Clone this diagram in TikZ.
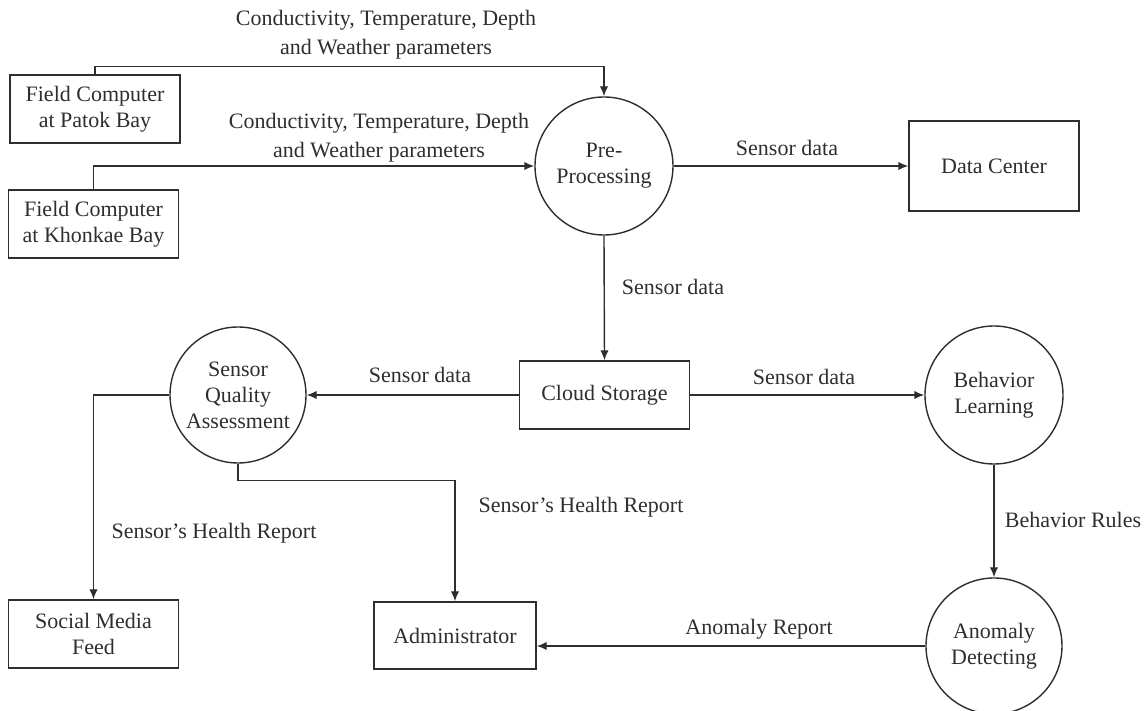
\documentclass[tikz,border=0pt]{standalone}
\usepackage{fontspec}
\setmainfont{Liberation Serif}
\usetikzlibrary{arrows.meta}
\colorlet{ink}{black!82}

\begin{document}
\begin{tikzpicture}[
    x=0.5pt, y=-0.5pt,
    every node/.style={font=\fontsize{11}{13}\selectfont, align=center},
    process/.style={circle, draw, minimum size=69pt, inner sep=0pt},
    entity/.style={rectangle, draw, minimum width=85pt, minimum height=34pt},
    flowlabel/.style={draw=none, font=\fontsize{11}{14.5}\selectfont},
    ->, >={Latex[length=5pt,width=4.2pt]}, line width=0.7pt, color=ink
]
\useasboundingbox (0,0) rectangle (1148,711);

% Field computers
\node[entity] (patok) at (95,109) {Field Computer\\at Patok Bay};
\node[entity] (khonkae) at (93.5,224) {Field Computer\\at Khonkae Bay};

% Processes
\node[process] (pre) at (604,166) {Pre-\\Processing};
\node[process, minimum size=68pt] (sqa) at (238,395) {Sensor\\Quality\\Assessment};
\node[process] (learn) at (994,395) {Behavior\\Learning};
\node[process, minimum size=68pt] (detect) at (994,646) {Anomaly\\Detecting};

% Stores and sinks
\node[entity, minimum height=45pt] (datacenter) at (994,166) {Data Center};
\node[entity] (cloud) at (604.5,395) {Cloud Storage};
\node[entity, minimum width=81pt, minimum height=33.5pt] (admin) at (455,635.5) {Administrator};
\node[entity] (social) at (93.5,634) {Social Media\\Feed};

% Flows into pre-processing
\draw (patok.north) -- ++(0,-8) -| (pre.north);
\draw (khonkae.north) |- (pre.west);
\node[flowlabel] (lbl-patok) at (386,35) {Conductivity, Temperature, Depth\\and Weather parameters};
\node[flowlabel] (lbl-khonkae) at (379,138) {Conductivity, Temperature, Depth\\and Weather parameters};

% Sensor data flows
\draw (pre.east) -- (pre.east -| datacenter.west);
\draw (pre.south) -- (cloud.north);
\draw (cloud.west) -- (sqa.east);
\draw (cloud.east) -- (cloud.east -| learn.west);
\node[flowlabel] (lbl-dc) at (787,148) {Sensor data};
\node[flowlabel] (lbl-cloud) at (673,287) {Sensor data};
\node[flowlabel] (lbl-sqa) at (420,375) {Sensor data};
\node[flowlabel] (lbl-learn) at (804,377) {Sensor data};

% Rules and reports
\draw (learn.south) -- (detect.north);
\draw (detect.west) -- (detect.west -| admin.east);
\draw (sqa.south) -- ++(0,17) -| (admin.north);
\draw (sqa.west) -| (social.north);
\node[flowlabel] (lbl-rules) at (1073,520) {Behavior Rules};
\node[flowlabel] (lbl-anomaly) at (759,629) {Anomaly Report};
\node[flowlabel] (lbl-admin) at (581,507) {Sensor’s Health Report};
\node[flowlabel] (lbl-social) at (214,533) {Sensor’s Health Report};

\end{tikzpicture}
\end{document}
